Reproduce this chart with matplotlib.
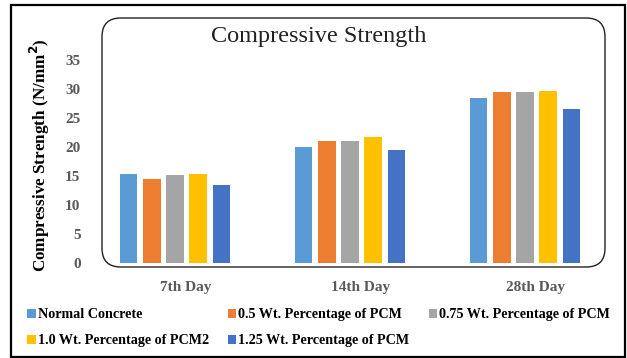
import matplotlib
matplotlib.use("Agg")
import matplotlib.pyplot as plt
from matplotlib.patches import FancyBboxPatch, Rectangle
import numpy as np

categories = ["7th Day", "14th Day", "28th Day"]
series_names = ["Normal Concrete", "0.5 Wt. Percentage of PCM", "0.75 Wt. Percentage of PCM",
                "1.0 Wt. Percentage of PCM2", "1.25 Wt. Percentage of PCM"]
normal = [15.3, 20.0, 28.4]
pcm_05 = [14.5, 21.0, 29.4]
pcm_075 = [15.1, 21.0, 29.4]
pcm_10 = [15.4, 21.7, 29.6]
pcm_125 = [13.5, 19.4, 26.6]
yticks = [0, 5, 10, 15, 20, 25, 30, 35]
colors = ["#5B9BD5", "#ED7D31", "#A5A5A5", "#FFC000", "#4472C4"]

W, H = 627, 358
fig = plt.figure(figsize=(W / 100, H / 100), dpi=100)
plt.rcParams['font.family'] = ['Liberation Serif', 'DejaVu Serif']

# axes: x px 87.5..612.5, y px 60..263 (from top)
ax = fig.add_axes([87.5 / W, (H - 263) / H, 525 / W, 203 / H])
ax.set_facecolor("none")

x = np.arange(len(categories))
slot = 0.133
width = 0.102
all_series = [normal, pcm_05, pcm_075, pcm_10, pcm_125]
bars = []
for i, (vals, c) in enumerate(zip(all_series, colors)):
    b = ax.bar(x + (i - 2) * slot, vals, width, color=c, label=series_names[i], zorder=2)
    bars.append(b)

ax.set_xlim(-0.5, 2.5)
ax.set_ylim(0, 35)
ax.set_yticks(yticks)
ax.set_yticklabels([str(t) for t in yticks], fontsize=11, fontweight='bold', color='#595959')
ax.set_xticks(x + 0.06)
ax.set_xticklabels(categories, fontsize=11, fontweight='bold', color='#595959')
ax.tick_params(axis='both', length=0)
ax.tick_params(axis='x', pad=13)
ax.tick_params(axis='y', pad=5)
for s in ax.spines.values():
    s.set_visible(False)

fig.text(40 / W, (H - 155) / H, "Compressive Strength (N/mm$^\\mathbf{2}$)", rotation=90,
         ha='center', va='center', fontsize=12.3, fontweight='bold', color='black')

fig.text(319 / W, (H - 42) / H, "Compressive Strength", ha='center', va='baseline',
         fontsize=17.5, color='#222222')

# rounded inner chart box
rb = FancyBboxPatch((102 / W, (H - 267) / H), (605 - 102) / W, (267 - 18) / H,
                    boxstyle="round,pad=0,rounding_size=0.03", mutation_aspect=W / H,
                    transform=fig.transFigure, fill=False, edgecolor='#222222', linewidth=1.0)
fig.patches.append(rb)

# outer border
ob = Rectangle((11 / W, 1 / H), (625 - 11) / W, (357 - 5) / H, transform=fig.transFigure,
               fill=False, edgecolor='black', linewidth=1.6)
fig.patches.append(ob)

order = [0, 3, 1, 4, 2]
handles = [bars[i] for i in order]
labels = [series_names[i] for i in order]
leg = fig.legend(handles, labels, ncol=3, loc='upper left',
                 bbox_to_anchor=(27 / W, (H - 308) / H), frameon=False,
                 prop={'family': 'Liberation Serif', 'weight': 'bold', 'size': 10.2},
                 handlelength=0.6, handleheight=0.6, handletextpad=0.15,
                 columnspacing=1.35, labelspacing=0.95, borderpad=0, borderaxespad=0)

fig.savefig("out.png", dpi=100)
